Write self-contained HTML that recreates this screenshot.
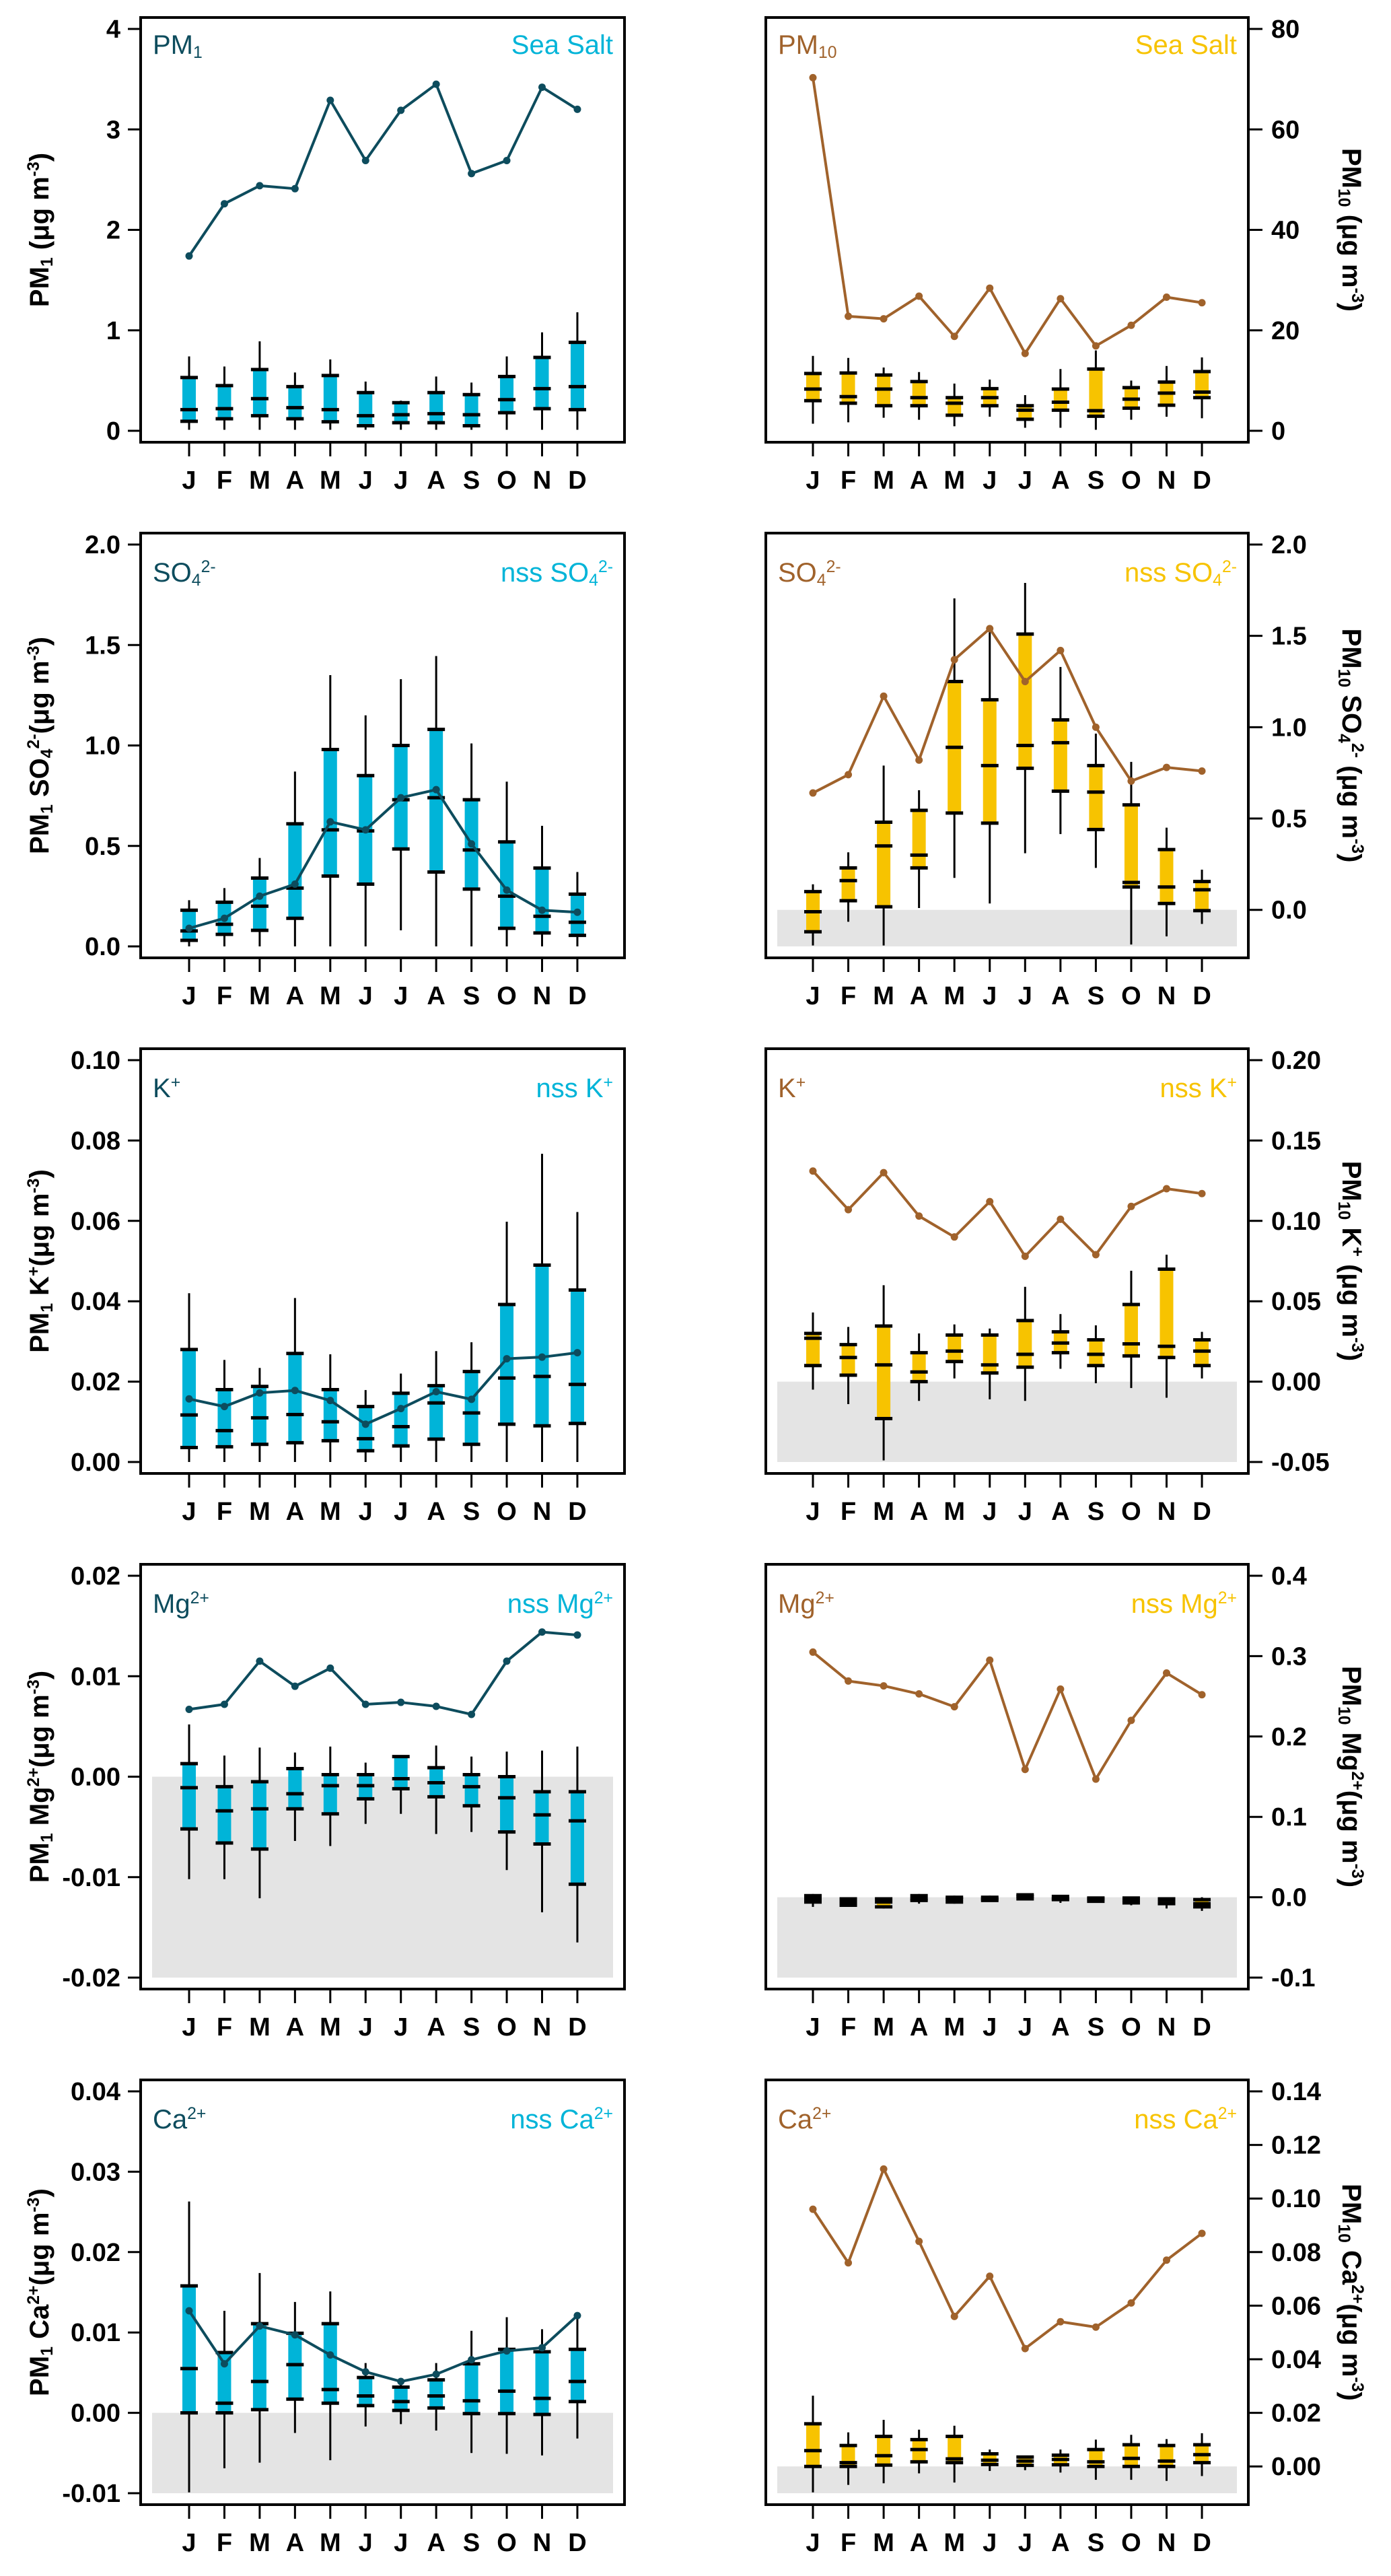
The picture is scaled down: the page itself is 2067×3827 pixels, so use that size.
<!DOCTYPE html>
<html><head><meta charset="utf-8"><style>
html,body{margin:0;padding:0;background:#fff;}
svg{display:block;font-family:"Liberation Sans",Arial,sans-serif;}
</style></head><body>
<svg id="fig" xmlns="http://www.w3.org/2000/svg" width="2067" height="3827" viewBox="0 0 2067 3827"></svg>
<script>
const months=["J","F","M","A","M","J","J","A","S","O","N","D"];
// ---- Row 1 ----
const pm1Line=[1.74,2.26,2.44,2.41,3.29,2.69,3.19,3.45,2.56,2.69,3.42,3.20];
const pm1Hi=[0.74,0.64,0.89,0.58,0.71,0.49,0.30,0.54,0.48,0.74,0.98,1.18];
const pm1Q3=[0.53,0.45,0.61,0.44,0.55,0.38,0.28,0.38,0.36,0.54,0.73,0.88];
const pm1Med=[0.21,0.22,0.32,0.23,0.21,0.15,0.16,0.17,0.16,0.31,0.42,0.44];
const pm1Q1=[0.095,0.12,0.15,0.12,0.09,0.05,0.08,0.08,0.05,0.18,0.22,0.21];
const pm1Lo=[0.01,0.01,0.01,0.01,0.01,0.01,0.01,0.01,0.01,0.01,0.01,0.01];
const pm10Line=[70.3,22.8,22.3,26.8,18.8,28.4,15.4,26.3,16.9,21.0,26.6,25.5];
const pm10Hi=[14.9,14.5,12.6,11.7,9.4,10.2,7.1,12.3,16.0,10.0,12.9,14.6];
const pm10Q3=[11.4,11.5,11.1,9.8,6.6,8.4,5.0,8.3,12.3,8.6,9.7,11.8];
const pm10Med=[8.3,6.8,8.3,6.6,5.5,6.6,4.1,5.7,4.0,6.3,7.5,7.7];
const pm10Q1=[6.0,5.5,5.0,5.0,3.1,5.0,2.3,4.1,2.9,4.5,5.1,6.6];
const pm10Lo=[1.4,1.7,2.6,2.2,0.9,2.8,0.6,0.6,0.2,2.2,2.8,2.5];
// ---- Row 2 ----
const so1Line=[0.09,0.14,0.25,0.31,0.62,0.58,0.74,0.78,0.51,0.28,0.18,0.17];
const so1Hi=[0.23,0.29,0.44,0.87,1.35,1.15,1.33,1.445,1.01,0.82,0.60,0.37];
const so1Q3=[0.18,0.22,0.34,0.61,0.98,0.85,1.00,1.08,0.73,0.52,0.39,0.26];
const so1Med=[0.077,0.11,0.20,0.29,0.58,0.575,0.73,0.74,0.48,0.25,0.15,0.12];
const so1Q1=[0.03,0.06,0.08,0.14,0.35,0.31,0.485,0.37,0.285,0.09,0.067,0.055];
const so1Lo=[0.0,0.0,0.0,0.0,0.0,0.0,0.08,0.0,0.0,0.0,0.0,0.0];
const so10Line=[0.64,0.74,1.17,0.82,1.37,1.54,1.25,1.42,1.00,0.705,0.78,0.76];
const so10Hi=[0.14,0.315,0.79,0.655,1.705,1.52,1.79,1.33,0.965,0.81,0.45,0.22];
const so10Q3=[0.10,0.23,0.48,0.545,1.25,1.15,1.51,1.04,0.79,0.575,0.33,0.155];
const so10Med=[-0.01,0.16,0.35,0.30,0.89,0.79,0.90,0.915,0.645,0.15,0.125,0.11];
const so10Q1=[-0.12,0.05,0.017,0.23,0.53,0.475,0.775,0.65,0.44,0.125,0.035,-0.004];
const so10Lo=[-0.195,-0.065,-0.195,0.01,0.175,0.035,0.31,0.415,0.23,-0.19,-0.145,-0.077];
// ---- Row 3 ----
const k1Line=[0.0157,0.0138,0.0172,0.0178,0.0153,0.0094,0.0133,0.0175,0.0156,0.0257,0.0261,0.0272];
const k1Hi=[0.042,0.0254,0.0234,0.0408,0.0268,0.0179,0.022,0.0276,0.0298,0.0598,0.0767,0.0622];
const k1Q3=[0.028,0.018,0.0188,0.027,0.018,0.0138,0.0171,0.019,0.0225,0.0392,0.049,0.0428];
const k1Med=[0.0117,0.0078,0.011,0.0118,0.010,0.0058,0.0088,0.0147,0.0122,0.0209,0.0213,0.0193];
const k1Q1=[0.0036,0.0038,0.0044,0.0048,0.0053,0.0028,0.004,0.0057,0.0044,0.0094,0.009,0.0096];
const k1Lo=[0,0,0,0,0,0,0,0,0,0,0,0];
const k10Line=[0.131,0.107,0.130,0.103,0.090,0.112,0.078,0.101,0.079,0.109,0.120,0.117];
const k10Hi=[0.043,0.034,0.060,0.030,0.0356,0.033,0.059,0.042,0.035,0.069,0.079,0.031];
const k10Q3=[0.030,0.023,0.0346,0.018,0.029,0.029,0.038,0.031,0.026,0.048,0.070,0.026];
const k10Med=[0.027,0.015,0.0104,0.006,0.019,0.0104,0.017,0.024,0.017,0.0235,0.022,0.019];
const k10Q1=[0.010,0.004,-0.023,0.0,0.0125,0.0054,0.009,0.018,0.010,0.016,0.015,0.010];
const k10Lo=[-0.005,-0.014,-0.049,-0.012,0.002,-0.011,-0.012,0.008,-0.001,-0.004,-0.010,0.002];
// ---- Row 4 ----
const mg1Line=[0.0067,0.0072,0.0115,0.009,0.0108,0.0072,0.0074,0.007,0.0062,0.0115,0.0144,0.0141];
const mg1Hi=[0.0052,0.0021,0.0029,0.0024,0.003,0.0014,0.0021,0.0031,0.002,0.0025,0.0026,0.003];
const mg1Q3=[0.0013,-0.001,-0.0005,0.0008,0.0002,0.0002,0.002,0.0009,0.0002,0.0,-0.0015,-0.0015];
const mg1Med=[-0.0011,-0.0034,-0.0032,-0.0017,-0.0009,-0.0009,-0.0002,-0.0006,-0.001,-0.0021,-0.0038,-0.0044];
const mg1Q1=[-0.0052,-0.0066,-0.0072,-0.0032,-0.0037,-0.0022,-0.0012,-0.002,-0.0029,-0.0055,-0.0067,-0.0107];
const mg1Lo=[-0.0102,-0.0102,-0.0121,-0.0064,-0.0069,-0.0047,-0.0037,-0.0057,-0.0055,-0.0093,-0.0135,-0.0165];
const mg10Line=[0.305,0.269,0.263,0.253,0.237,0.295,0.159,0.259,0.147,0.220,0.279,0.252];
const mg10Hi=[0.004,0.0,0.0,0.004,0.002,0.002,0.004,0.002,0.0,0.0,0.0,0.0];
const mg10Q3=[0.002,-0.002,-0.002,0.002,0.0,0.0,0.003,0.001,-0.001,-0.001,-0.002,-0.003];
const mg10Med=[-0.002,-0.006,-0.006,-0.002,-0.002,-0.002,0.001,-0.002,-0.002,-0.004,-0.004,-0.008];
const mg10Q1=[-0.006,-0.01,-0.012,-0.004,-0.006,-0.004,-0.002,-0.003,-0.005,-0.007,-0.008,-0.012];
const mg10Lo=[-0.012,-0.012,-0.014,-0.008,-0.008,-0.004,-0.003,-0.007,-0.007,-0.01,-0.014,-0.017];
// ---- Row 5 ----
const ca1Line=[0.0127,0.0061,0.0108,0.0097,0.0072,0.0051,0.0039,0.0048,0.0066,0.0077,0.0081,0.0121];
const ca1Hi=[0.0263,0.0127,0.0174,0.0138,0.0151,0.0062,0.004,0.0062,0.0102,0.0119,0.0104,0.0118];
const ca1Q3=[0.0158,0.0075,0.0111,0.0099,0.0111,0.0044,0.0032,0.0041,0.0061,0.0079,0.0076,0.0079];
const ca1Med=[0.0055,0.0012,0.0039,0.006,0.0029,0.0021,0.0014,0.0021,0.0015,0.0027,0.0018,0.0039];
const ca1Q1=[0.0,0.0,0.0004,0.0017,0.0012,0.0009,0.0003,0.0006,-0.0001,-0.0001,-0.0002,0.0014];
const ca1Lo=[-0.0099,-0.0069,-0.0062,-0.0025,-0.0059,-0.0017,-0.0014,-0.0022,-0.005,-0.0051,-0.0053,-0.0032];
const ca10Line=[0.096,0.076,0.111,0.084,0.056,0.071,0.044,0.054,0.052,0.061,0.077,0.087];
const ca10Hi=[0.0264,0.0127,0.0174,0.0137,0.0152,0.0063,0.004,0.0063,0.010,0.0118,0.0102,0.0124];
const ca10Q3=[0.0159,0.0078,0.0112,0.010,0.0112,0.0047,0.0035,0.0042,0.0063,0.0081,0.0078,0.0081];
const ca10Med=[0.0059,0.0014,0.004,0.0063,0.0028,0.0023,0.002,0.0026,0.0017,0.003,0.002,0.0044];
const ca10Q1=[0.0,0.0,0.0005,0.0017,0.0014,0.0007,0.0004,0.0006,0.0,0.0,0.0,0.0014];
const ca10Lo=[-0.0097,-0.0069,-0.0063,-0.0026,-0.006,-0.0017,-0.0014,-0.0023,-0.005,-0.005,-0.0054,-0.0036];

const ticks1L=["0","1","2","3","4"], ticks1R=["0","20","40","60","80"];
const ticks2L=["0.0","0.5","1.0","1.5","2.0"], ticks2R=["0.0","0.5","1.0","1.5","2.0"];
const ticks3L=["0.00","0.02","0.04","0.06","0.08","0.10"], ticks3R=["-0.05","0.00","0.05","0.10","0.15","0.20"];
const ticks4L=["-0.02","-0.01","0.00","0.01","0.02"], ticks4R=["-0.1","0.0","0.1","0.2","0.3","0.4"];
const ticks5L=["-0.01","0.00","0.01","0.02","0.03","0.04"], ticks5R=["0.00","0.02","0.04","0.06","0.08","0.10","0.12","0.14"];

const NS="http://www.w3.org/2000/svg";
const svg=document.getElementById('fig');
function mk(tag,attrs,parent){const e=document.createElementNS(NS,tag);for(const k in attrs)e.setAttribute(k,attrs[k]);(parent||svg).appendChild(e);return e;}

const C={dteal:"#0d4c5d",cyan:"#00b4d8",brown:"#a0622b",yellow:"#f7c300",gray:"#e4e4e4"};

function labelText(parent,x,y,parts,color,anchor,size,weight,rotate){
  const t=mk('text',{x:x,y:y,fill:color,'font-size':size,'font-weight':weight||'normal','text-anchor':anchor||'start'},parent);
  if(rotate) t.setAttribute('transform','rotate('+rotate+' '+x+' '+y+')');
  parts.forEach(p=>{const s=mk('tspan',{},t);s.textContent=p[0];
    if(p[1]==='sub'){s.setAttribute('baseline-shift','-25%');s.setAttribute('font-size',size*0.62);}
    if(p[1]==='sup'){s.setAttribute('baseline-shift','55%');s.setAttribute('font-size',size*0.62);}});
  return t;
}

function panel(o){
  const g=mk('g',{});
  
  
  const T=o.T, L=o.L, R=o.R, B=T+631;
  const yTop=T+17, yBot=T+614;
  const y=v=>yTop+(o.max-v)/(o.max-o.min)*(yBot-yTop);
  const x0=o.left?281:1208, dx=o.left?52.45:52.55;
  const x=i=>x0+i*dx;
  if(o.gray){const gr=mk('rect',{x:L+17,y:y(0),width:R-L-34,height:yBot-y(0),fill:C.gray},g);
    }
  // frame
  const fr=mk('rect',{x:L,y:T,width:R-L,height:B-T,fill:'none',stroke:'#000','stroke-width':4},g);
  
  // y ticks
  o.ticks.forEach(lbl=>{const v=parseFloat(lbl), yy=y(v);
    if(o.left){mk('line',{x1:L-19,x2:L,y1:yy,y2:yy,stroke:'#000','stroke-width':3},g);
      const t=mk('text',{x:L-30,y:yy+13,'text-anchor':'end','font-size':38,'font-weight':'bold'},g);t.textContent=lbl;
      }
    else{mk('line',{x1:R,x2:R+21,y1:yy,y2:yy,stroke:'#000','stroke-width':3},g);
      const t=mk('text',{x:R+34,y:yy+13,'text-anchor':'start','font-size':38,'font-weight':'bold'},g);t.textContent=lbl;
      }
  });
  // x ticks + labels
  months.forEach((m,i)=>{mk('line',{x1:x(i),x2:x(i),y1:B,y2:B+21,stroke:'#000','stroke-width':3},g);
    const t=mk('text',{x:x(i),y:T+700,'text-anchor':'middle','font-size':38,'font-weight':'bold'},g);t.textContent=m;
    });
  // boxes
  months.forEach((m,i)=>{const bg=mk('g',{},g);
    
    mk('line',{x1:x(i),x2:x(i),y1:y(o.hi[i]),y2:y(o.lo[i]),stroke:'#000','stroke-width':3},bg);
    const top=Math.min(y(o.q3[i]),y(o.q1[i])), h=Math.abs(y(o.q1[i])-y(o.q3[i]));
    mk('rect',{x:x(i)-10,y:top,width:20,height:h,fill:o.boxColor},bg);
    [o.q1[i],o.med[i],o.q3[i]].forEach(v=>mk('line',{x1:x(i)-13,x2:x(i)+13,y1:y(v),y2:y(v),stroke:'#000','stroke-width':5},bg));
  });
  // line
  const pts=o.line.map((v,i)=>x(i)+','+y(v)).join(' ');
  const pl=mk('polyline',{points:pts,fill:'none',stroke:o.lineColor,'stroke-width':4,'stroke-linejoin':'round'},g);
  
  o.line.forEach((v,i)=>{const c=mk('circle',{cx:x(i),cy:y(v),r:5.5,fill:o.lineColor},g);
    });
  // annotations
  const a1=labelText(g,L+18,T+(o.row===0?54:72),o.lab1,o.lineColor,'start',40);
  
  const a2=labelText(g,R-17,T+(o.row===0?54:72),o.lab2,o.boxColor,'end',40);
  
  // axis title
  const cy=(T+B)/2;
  let at;
  if(o.left) at=labelText(g,72,cy,o.title,'#000','middle',40,'bold',-90);
  else at=labelText(g,1995,cy,o.title,'#000','middle',40,'bold',90);
  
}

const Ts=[26,792,1558,2324,3090];
const LL=209,LR=928,RL=1138,RR=1855;
const ug=[[" (μg m"],["-3","sup"],[")"]];
const ug2=[["(μg m"],["-3","sup"],[")"]];
panel({name:'pm1-panel',row:0,T:Ts[0],L:LL,R:LR,left:true,min:0,max:4,ticks:ticks1L,line:pm1Line,hi:pm1Hi,q3:pm1Q3,med:pm1Med,q1:pm1Q1,lo:pm1Lo,boxColor:C.cyan,lineColor:C.dteal,gray:false,
  lab1:[["PM"],["1","sub"]],lab2:[["Sea Salt"]],title:[["PM"],["1","sub"]].concat(ug)});
panel({name:'pm10-panel',row:0,T:Ts[0],L:RL,R:RR,left:false,min:0,max:80,ticks:ticks1R,line:pm10Line,hi:pm10Hi,q3:pm10Q3,med:pm10Med,q1:pm10Q1,lo:pm10Lo,boxColor:C.yellow,lineColor:C.brown,gray:false,
  lab1:[["PM"],["10","sub"]],lab2:[["Sea Salt"]],title:[["PM"],["10","sub"]].concat(ug)});
panel({name:'pm1-so4-panel',row:1,T:Ts[1],L:LL,R:LR,left:true,min:0,max:2,ticks:ticks2L,line:so1Line,hi:so1Hi,q3:so1Q3,med:so1Med,q1:so1Q1,lo:so1Lo,boxColor:C.cyan,lineColor:C.dteal,gray:false,
  lab1:[["SO"],["4","sub"],["2-","sup"]],lab2:[["nss SO"],["4","sub"],["2-","sup"]],title:[["PM"],["1","sub"],[" SO"],["4","sub"],["2-","sup"]].concat(ug2)});
panel({name:'pm10-so4-panel',row:1,T:Ts[1],L:RL,R:RR,left:false,min:-0.2,max:2,ticks:ticks2R,line:so10Line,hi:so10Hi,q3:so10Q3,med:so10Med,q1:so10Q1,lo:so10Lo,boxColor:C.yellow,lineColor:C.brown,gray:true,
  lab1:[["SO"],["4","sub"],["2-","sup"]],lab2:[["nss SO"],["4","sub"],["2-","sup"]],title:[["PM"],["10","sub"],[" SO"],["4","sub"],["2-","sup"]].concat(ug)});
panel({name:'pm1-k-panel',row:2,T:Ts[2],L:LL,R:LR,left:true,min:0,max:0.1,ticks:ticks3L,line:k1Line,hi:k1Hi,q3:k1Q3,med:k1Med,q1:k1Q1,lo:k1Lo,boxColor:C.cyan,lineColor:C.dteal,gray:false,
  lab1:[["K"],["+","sup"]],lab2:[["nss K"],["+","sup"]],title:[["PM"],["1","sub"],[" K"],["+","sup"]].concat(ug2)});
panel({name:'pm10-k-panel',row:2,T:Ts[2],L:RL,R:RR,left:false,min:-0.05,max:0.2,ticks:ticks3R,line:k10Line,hi:k10Hi,q3:k10Q3,med:k10Med,q1:k10Q1,lo:k10Lo,boxColor:C.yellow,lineColor:C.brown,gray:true,
  lab1:[["K"],["+","sup"]],lab2:[["nss K"],["+","sup"]],title:[["PM"],["10","sub"],[" K"],["+","sup"]].concat(ug)});
panel({name:'pm1-mg-panel',row:3,T:Ts[3],L:LL,R:LR,left:true,min:-0.02,max:0.02,ticks:ticks4L,line:mg1Line,hi:mg1Hi,q3:mg1Q3,med:mg1Med,q1:mg1Q1,lo:mg1Lo,boxColor:C.cyan,lineColor:C.dteal,gray:true,
  lab1:[["Mg"],["2+","sup"]],lab2:[["nss Mg"],["2+","sup"]],title:[["PM"],["1","sub"],[" Mg"],["2+","sup"]].concat(ug2)});
panel({name:'pm10-mg-panel',row:3,T:Ts[3],L:RL,R:RR,left:false,min:-0.1,max:0.4,ticks:ticks4R,line:mg10Line,hi:mg10Hi,q3:mg10Q3,med:mg10Med,q1:mg10Q1,lo:mg10Lo,boxColor:C.yellow,lineColor:C.brown,gray:true,
  lab1:[["Mg"],["2+","sup"]],lab2:[["nss Mg"],["2+","sup"]],title:[["PM"],["10","sub"],[" Mg"],["2+","sup"]].concat(ug2)});
panel({name:'pm1-ca-panel',row:4,T:Ts[4],L:LL,R:LR,left:true,min:-0.01,max:0.04,ticks:ticks5L,line:ca1Line,hi:ca1Hi,q3:ca1Q3,med:ca1Med,q1:ca1Q1,lo:ca1Lo,boxColor:C.cyan,lineColor:C.dteal,gray:true,
  lab1:[["Ca"],["2+","sup"]],lab2:[["nss Ca"],["2+","sup"]],title:[["PM"],["1","sub"],[" Ca"],["2+","sup"]].concat(ug2)});
panel({name:'pm10-ca-panel',row:4,T:Ts[4],L:RL,R:RR,left:false,min:-0.01,max:0.14,ticks:ticks5R,line:ca10Line,hi:ca10Hi,q3:ca10Q3,med:ca10Med,q1:ca10Q1,lo:ca10Lo,boxColor:C.yellow,lineColor:C.brown,gray:true,
  lab1:[["Ca"],["2+","sup"]],lab2:[["nss Ca"],["2+","sup"]],title:[["PM"],["10","sub"],[" Ca"],["2+","sup"]].concat(ug2)});
</script>
</body></html>
